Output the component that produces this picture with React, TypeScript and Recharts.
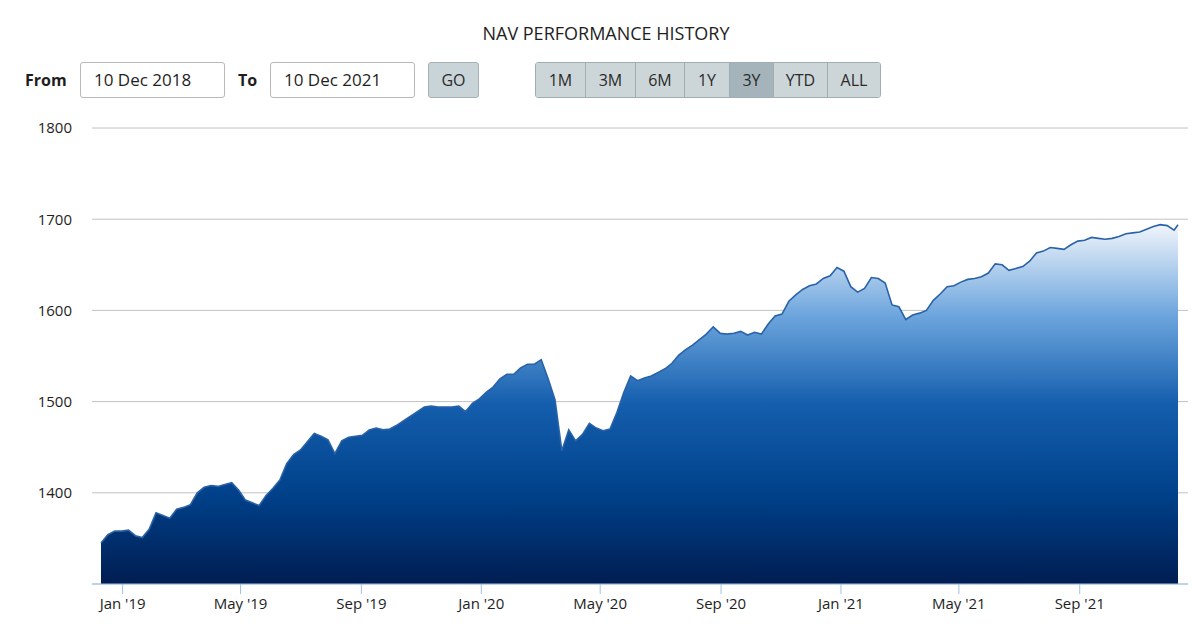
import {
  Area,
  AreaChart,
  CartesianGrid,
  XAxis,
  YAxis,
} from "recharts";

// weekly NAV readings (Mondays), starting 10 Dec 2018
const nav2018 = [1345, 1354, 1358, 1358];
const nav2019 = [
  1359, 1353, 1351, 1360, 1378, 1375, 1372, 1382, 1384, 1387, 1400, 1406, 1408,
  1407, 1409, 1411, 1403, 1392, 1389, 1386, 1397, 1405, 1414, 1432, 1442, 1447,
  1456, 1465, 1462, 1458, 1443, 1457, 1461, 1462, 1463, 1469, 1471, 1469, 1470,
  1474, 1479, 1484, 1489, 1494, 1495, 1494, 1494, 1494, 1495, 1489, 1498, 1503,
];
const nav2020 = [
  1510, 1516, 1525, 1530, 1530, 1537, 1541, 1541, 1546, 1525, 1502, 1446, 1469,
  1457, 1464, 1476, 1471, 1468, 1470, 1488, 1510, 1528, 1523, 1526, 1528, 1532,
  1536, 1542, 1551, 1557, 1562, 1568, 1574, 1582, 1575, 1574, 1575, 1577, 1573,
  1576, 1574, 1585, 1594, 1596, 1610, 1617, 1623, 1627, 1629, 1635, 1638, 1647,
];
const nav2021 = [
  1643, 1626, 1620, 1624, 1636, 1635, 1630, 1606, 1604, 1590, 1595, 1597, 1600,
  1611, 1618, 1626, 1627, 1631, 1634, 1635, 1637, 1641, 1651, 1650, 1644, 1646,
  1648, 1654, 1663, 1665, 1669, 1668, 1667, 1672, 1676, 1677, 1680, 1679, 1678,
  1679, 1681, 1684, 1685, 1686, 1689, 1692, 1694, 1693, 1688,
];
const lastDate = "2021-12-10";
const lastNav = 1694;

const startDate = "2018-12-10";
const tickDates = [
  "2019-01-01",
  "2019-05-01",
  "2019-09-01",
  "2020-01-01",
  "2020-05-01",
  "2020-09-01",
  "2021-01-01",
  "2021-05-01",
  "2021-09-01",
];
const tickLabels = [
  "Jan '19",
  "May '19",
  "Sep '19",
  "Jan '20",
  "May '20",
  "Sep '20",
  "Jan '21",
  "May '21",
  "Sep '21",
];
const yTicks = [1300, 1400, 1500, 1600, 1700, 1800];
const ranges = ["1M", "3M", "6M", "1Y", "3Y", "YTD", "ALL"];
const rangeWidths = [49, 50, 49, 45, 44, 54, 53];

const DAY = 86400000;
const t0 = Date.parse(startDate);
const weekly = [...nav2018, ...nav2019, ...nav2020, ...nav2021];
const chartData = [
  ...weekly.map((nav, i) => ({ t: t0 + i * 7 * DAY, nav })),
  { t: Date.parse(lastDate), nav: lastNav },
];
const tickTimes = tickDates.map((d) => Date.parse(d));

const font = "'Open Sans', 'Noto Sans', sans-serif";

const boxStyle: React.CSSProperties = {
  position: "absolute",
  top: 62,
  height: 36,
  boxSizing: "border-box",
  border: "1px solid #b9b9b9",
  borderRadius: 3,
  fontSize: 17,
  lineHeight: "34px",
  paddingLeft: 13,
  color: "#1e1e1e",
  background: "#fff",
};

export default function App() {
  return (
    <div
      style={{
        position: "absolute",
        left: 0,
        top: 0,
        width: 1200,
        height: 629,
        background: "#fff",
        fontFamily: font,
        color: "#1e1e1e",
      }}
    >
      <div
        style={{
          position: "absolute",
          top: 20,
          left: 0,
          width: 1212,
          textAlign: "center",
          fontSize: 18,
          lineHeight: "26px",
        }}
      >
        NAV PERFORMANCE HISTORY
      </div>

      <div style={{ position: "absolute", left: 25, top: 68, fontSize: 16, fontWeight: 700, lineHeight: "24px" }}>
        From
      </div>
      <div style={{ ...boxStyle, left: 80, width: 145 }}>10 Dec 2018</div>
      <div style={{ position: "absolute", left: 238, top: 68, fontSize: 16, fontWeight: 700, lineHeight: "24px" }}>
        To
      </div>
      <div style={{ ...boxStyle, left: 270, width: 145 }}>10 Dec 2021</div>
      <div
        style={{
          position: "absolute",
          left: 428,
          top: 62,
          width: 51,
          height: 36,
          boxSizing: "border-box",
          background: "#c9d4d8",
          border: "1px solid #a4b2b7",
          borderRadius: 3,
          textAlign: "center",
          lineHeight: "34px",
          fontSize: 16,
          color: "#2a2a2a",
        }}
      >
        GO
      </div>

      <div
        style={{
          position: "absolute",
          left: 535,
          top: 62,
          height: 36,
          display: "flex",
          boxSizing: "border-box",
          border: "1px solid #a0aeb3",
          borderRadius: 3,
          overflow: "hidden",
        }}
      >
        {ranges.map((r, i) => (
          <div
            key={r}
            style={{
              width: rangeWidths[i],
              height: 34,
              boxSizing: "border-box",
              borderLeft: i === 0 ? "none" : "1px solid #a0aeb3",
              background: r === "3Y" ? "#a5b4ba" : "#ccd6d9",
              textAlign: "center",
              lineHeight: "34px",
              fontSize: 16,
              color: "#2a2a2a",
            }}
          >
            {r}
          </div>
        ))}
      </div>

      <div style={{ position: "absolute", left: 0, top: 0 }}>
        <AreaChart
          width={1200}
          height={629}
          data={chartData}
          margin={{ top: 128, right: 12, bottom: 15, left: 0 }}
        >
          <defs>
            <linearGradient id="navFill" x1="0" y1="0" x2="0" y2="1">
              <stop offset="0%" stopColor="#f0f5fb" />
              <stop offset="25%" stopColor="#6ea6de" />
              <stop offset="50%" stopColor="#145ead" />
              <stop offset="75%" stopColor="#00418a" />
              <stop offset="100%" stopColor="#001d52" />
            </linearGradient>
          </defs>
          <CartesianGrid vertical={false} stroke="#c2c2c2" />
          <XAxis
            dataKey="t"
            type="number"
            domain={[t0, Date.parse(lastDate)]}
            ticks={tickTimes}
            tickFormatter={(v) => tickLabels[tickTimes.indexOf(v)] ?? ""}
            padding={{ left: 9, right: 10 }}
            stroke="#9cc3ea"
            tickSize={10}
            tickMargin={4}
            height={30}
            tick={{ fill: "#1e1e1e", fontSize: 15, fontFamily: font }}
          />
          <YAxis
            domain={[1300, 1800]}
            ticks={yTicks}
            tickFormatter={(v) => (v === 1300 ? "" : String(v))}
            width={92}
            axisLine={false}
            tickLine={false}
            tickSize={0}
            tickMargin={20}
            tick={{ fill: "#1e1e1e", fontSize: 15, fontFamily: font }}
          />
          <Area
            type="linear"
            dataKey="nav"
            stroke="#2a62a8"
            strokeWidth={1.6}
            fill="url(#navFill)"
            fillOpacity={1}
            dot={false}
            activeDot={false}
            isAnimationActive={false}
          />
        </AreaChart>
      </div>
    </div>
  );
}
